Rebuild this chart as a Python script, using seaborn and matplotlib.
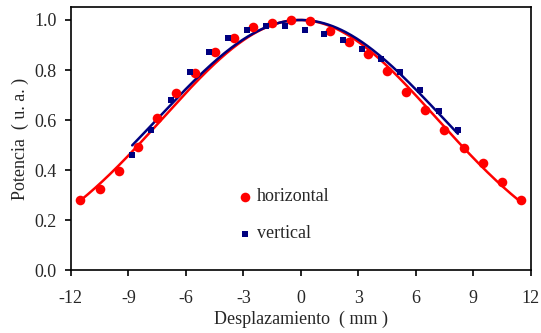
import numpy as np
import pandas as pd
import matplotlib
matplotlib.use('Agg')
import matplotlib.pyplot as plt
import seaborn as sns

# ── データ ─────────────────────────────
x_h = [-11.5, -10.5, -9.5, -8.5, -7.5, -6.5, -5.5, -4.5, -3.5, -2.5, -1.5, -0.5,
       0.5, 1.5, 2.5, 3.5, 4.5, 5.5, 6.5, 7.5, 8.5, 9.5, 10.5, 11.5]
y_h = [0.28, 0.326, 0.397, 0.491, 0.607, 0.708, 0.789, 0.871, 0.929, 0.972, 0.988, 1.0,
       0.997, 0.955, 0.912, 0.864, 0.797, 0.712, 0.639, 0.561, 0.487, 0.427, 0.352, 0.279]

x_v = [-8.8, -7.8, -6.8, -5.8, -4.8, -3.8, -2.8, -1.8, -0.8,
       0.2, 1.2, 2.2, 3.2, 4.2, 5.2, 6.2, 7.2, 8.2]
y_v = [0.459, 0.56, 0.68, 0.791, 0.871, 0.927, 0.96, 0.975, 0.975,
       0.959, 0.943, 0.919, 0.885, 0.845, 0.791, 0.72, 0.636, 0.559]

xticks = [-12, -9, -6, -3, 0, 3, 6, 9, 12]
yticks = [0.0, 0.2, 0.4, 0.6, 0.8, 1.0]

RED = '#ff0000'
BLUE = '#00007f'
FS = 13


def gauss_fit(x, y):
    # ガウス近似 (log 空間で2次フィット) → ピーク1に正規化
    p = np.polyfit(x, np.log(y), 2)
    xs = np.linspace(min(x), max(x), 300)
    ys = np.exp(np.polyval(p, xs))
    return xs, ys / ys.max()


sns.set_style('ticks')
plt.rcParams['font.family'] = ['Liberation Serif', 'DejaVu Serif']

fig = plt.figure(figsize=(5.41, 3.33), dpi=100)
ax = fig.add_axes([0.131, 0.189, 0.850, 0.790])

xs, ys = gauss_fit(x_h, y_h)
sns.lineplot(x=xs, y=ys, color=RED, linewidth=1.8, ax=ax, zorder=2)
xs, ys = gauss_fit(x_v, y_v)
sns.lineplot(x=xs, y=ys, color=BLUE, linewidth=1.8, ax=ax, zorder=2)

sns.scatterplot(x=x_h, y=y_h, color=RED, marker='o', s=48, linewidth=0,
                ax=ax, zorder=3, label='horizontal')
sns.scatterplot(x=x_v, y=y_v, color=BLUE, marker='s', s=16, linewidth=0,
                ax=ax, zorder=3, label='vertical')

ax.set_xlim(-12, 12)
ax.set_ylim(0, 1.052)
ax.set_xticks(xticks)
ax.set_yticks(yticks)
ax.set_xticklabels([str(t) for t in xticks], fontsize=FS)
ax.set_yticklabels([f'{t:.1f}' for t in yticks], fontsize=FS)
ax.tick_params(direction='out', length=4, width=1.2, color='black')
ax.tick_params(axis='x', pad=10)
ax.tick_params(axis='y', pad=6)
for s in ax.spines.values():
    s.set_visible(True)
    s.set_color('black')
    s.set_linewidth(1.2)

ax.set_xlabel('Desplazamiento  ( mm )', fontsize=FS, labelpad=3)
ax.set_ylabel('Potencia  ( u. a. )', fontsize=FS, labelpad=4)

ax.legend(loc='center left', bbox_to_anchor=(0.343, 0.208), frameon=False,
          fontsize=FS, labelspacing=1.1, handletextpad=0.15, handlelength=1.0,
          borderaxespad=0)

fig.savefig('out.png', dpi=100)
